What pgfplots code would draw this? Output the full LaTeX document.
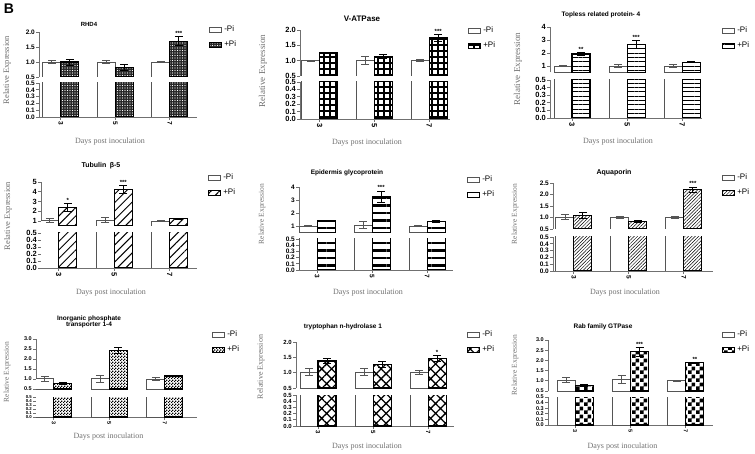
\documentclass[border=0pt]{standalone}
\usepackage{fontspec}
\setmainfont{Liberation Sans}
\newfontfamily\timesf{Liberation Serif}
\usepackage{pgfplots}
\usepackage{pgfplotstable}
\pgfplotsset{compat=1.18}
\usetikzlibrary{patterns,patterns.meta}

\definecolor{axgray}{HTML}{707070}
\definecolor{bargray}{HTML}{555555}

\pgfdeclarepatternformonly{bigchecker}{\pgfpointorigin}{\pgfqpoint{8pt}{8pt}}{\pgfqpoint{8pt}{8pt}}{%
  \pgfpathrectangle{\pgfpointorigin}{\pgfqpoint{4pt}{4pt}}%
  \pgfpathrectangle{\pgfqpoint{4pt}{4pt}}{\pgfqpoint{4pt}{4pt}}%
  \pgfusepath{fill}}
\pgfdeclarepatternformonly{smallchecker}{\pgfpointorigin}{\pgfqpoint{3pt}{3pt}}{\pgfqpoint{3pt}{3pt}}{%
  \pgfpathrectangle{\pgfpointorigin}{\pgfqpoint{1.5pt}{1.5pt}}%
  \pgfpathrectangle{\pgfqpoint{1.5pt}{1.5pt}}{\pgfqpoint{1.5pt}{1.5pt}}%
  \pgfusepath{fill}}

\tikzset{
  patA/.style={fill=black!85, postaction={pattern={Dots[distance=2.5pt,radius=0.55pt]}, pattern color=white}},
  patB/.style={fill=white, postaction={pattern={Hatch[angle=0,distance=6pt,line width=1.3pt]}, pattern color=black}},
  patC/.style={fill=white, postaction={pattern={Lines[angle=0,distance=4.3pt,line width=0.7pt]}, pattern color=black}},
  patD/.style={fill=white, postaction={pattern={Lines[angle=45,distance=6pt,line width=1pt]}, pattern color=black}},
  patE/.style={fill=white, postaction={pattern={Lines[angle=0,distance=7.5pt,line width=2.6pt]}, pattern color=black}},
  patF/.style={fill=white, postaction={pattern={Lines[angle=45,distance=2.4pt,line width=0.5pt]}, pattern color=black}},
  patG/.style={fill=white, postaction={pattern=smallchecker, pattern color=black}},
  patH/.style={fill=white, postaction={pattern={Hatch[angle=45,distance=7pt,line width=1.3pt]}, pattern color=black}},
  patI/.style={fill=white, postaction={pattern=bigchecker, pattern color=black}},
}

\pgfplotsset{
  barleg/.style={legend image code/.code={\draw[##1] (0pt,-2.5pt) rectangle (12pt,2.5pt);}},
  negbar/.style={ybar, bar width=18pt, draw=bargray, fill=white, line width=0.8pt, barleg},
  posbar/.style={ybar, bar width=18pt, draw=black, line width=1.1pt, barleg},
  ebar/.style={forget plot, draw=none, mark=none,
    /pgfplots/error bars/y dir=both, /pgfplots/error bars/y explicit,
    /pgfplots/error bars/error bar style={draw=#1, line width=0.8pt},
    /pgfplots/error bars/error mark options={rotate=90, draw=#1, mark size=4pt, line width=0.8pt}},
  starplot/.style={draw=none, mark=none, forget plot, nodes near coords, point meta=explicit symbolic,
    nodes near coords style={font=\bfseries\fontsize{6}{6}\selectfont, anchor=south, inner sep=1pt}},
  base/.style={scale only axis, anchor=south west, clip=true, enlargelimits=false,
    axis line style={draw=axgray, line width=0.8pt, -},
    tick style={draw=axgray, line width=0.8pt},
    tick align=outside, major tick length=3pt,
    ticklabel style={font=\bfseries\fontsize{\pFs}{\pFs}\selectfont, text=black},
    /pgf/number format/assume math mode=true,
    yticklabel style={inner xsep=1pt, inner ysep=0.3pt}},
  uppers/.style={base, axis y line*=left, axis x line=none,
    legend cell align=left,
    legend style={at={(1,1)}, anchor=north west, draw=none, fill=none, inner sep=0pt,
      font=\fontsize{8}{8}\selectfont, row sep=3.5pt,
      /tikz/every even column/.append style={column sep=5pt}}},
  dec/.style={yticklabel style={/pgf/number format/fixed, /pgf/number format/fixed zerofill,
    /pgf/number format/precision=1}},
  lowers/.style={base, axis y line*=left, axis x line*=bottom, ymin=0, ymax=0.5,
    ytick={0,0.1,0.2,0.3,0.4,0.5}, dec,
    yticklabel style={font=\bfseries\fontsize{\pLfs}{\pLfs}\selectfont},
    xtick={0,1,2}, xticklabels={3,5,7}, xticklabel style={rotate=-90, anchor=west, inner sep=1.5pt}},
}

\pgfkeys{/pn/.cd,
  xl/.store in=\pXl, xr/.store in=\pXr, ut/.store in=\pUt, ub/.store in=\pUb,
  lt/.store in=\pLt, lb/.store in=\pLb, xmin/.store in=\pXmin, xmax/.store in=\pXmax,
  title/.store in=\pTitle, tx/.store in=\pTx, ty/.store in=\pTy, tfs/.store in=\pTfs,
  ldx/.store in=\pLdx, ldy/.store in=\pLdy, fs/.store in=\pFs, lfs/.store in=\pLfs,
  ylx/.store in=\pYlx, yly/.store in=\pYly, ylfs/.store in=\pYlfs, xly/.store in=\pXly}

% #1 geometry (px from top-left), #2 upper axis options, #3 table, #4 pattern
\newcommand{\panel}[4]{%
  \pgfkeys{/pn/.cd, fs=6, lfs=0, tfs=6.5, #1}%
  \ifdim\pLfs pt=0pt \edef\pLfs{\pFs}\fi
  \pgfmathsetmacro\pW{\pXr-\pXl}%
  \pgfmathsetmacro\pHu{\pUb-\pUt}%
  \pgfmathsetmacro\pHl{\pLb-\pLt}%
  \pgfmathsetmacro\pYu{453-\pUb}%
  \pgfmathsetmacro\pYl{453-\pLb}%
  \pgfmathsetmacro\pLy{\pLdy+4}%
  \pgfmathsetmacro\pOff{9*((\pXmax)-(\pXmin))/\pW}%
  \begin{axis}[uppers, at={(\pXl pt,\pYu pt)}, width=\pW pt, height=\pHu pt,
      xmin=\pXmin, xmax=\pXmax, ymin=0.5,
      legend style={xshift=\pLdx pt, yshift=\pLy pt}, #2]
    \addplot[negbar, bar shift=-9pt] table[x=x, y=neg] {#3};
    \addlegendentry{-Pi}
    \addplot[posbar, #4, bar shift=9pt] table[x=x, y=pos] {#3};
    \addlegendentry{+Pi}
    \addplot[ebar=bargray] table[x expr=\thisrow{x}-\pOff, y=neg, y error=nerr] {#3};
    \addplot[ebar=black] table[x expr=\thisrow{x}+\pOff, y=pos, y error=perr] {#3};
    \addplot[starplot] table[x expr=\thisrow{x}+\pOff, y expr=\thisrow{pos}+\thisrow{perr}, meta=sig] {#3};
  \end{axis}
  \begin{axis}[lowers, at={(\pXl pt,\pYl pt)}, width=\pW pt, height=\pHl pt,
      xmin=\pXmin, xmax=\pXmax]
    \addplot[negbar, bar shift=-9pt] table[x=x, y=neg] {#3};
    \addplot[posbar, #4, bar shift=9pt] table[x=x, y=pos] {#3};
  \end{axis}
  \pgfmathsetmacro\pTyy{453-\pTy}%
  \pgfmathsetmacro\pYlyy{453-\pYly}%
  \pgfmathsetmacro\pXlx{(\pXl+\pXr)/2-8}%
  \pgfmathsetmacro\pXlyy{453-\pXly}%
  \node[font=\bfseries\fontsize{\pTfs}{\pTfs}\selectfont, align=center] at (\pTx pt,\pTyy pt) {\pTitle};
  \node[rotate=90, font=\timesf\fontsize{\pYlfs}{\pYlfs}\selectfont, text=axgray] at (\pYlx pt,\pYlyy pt) {Relative Expression};
  \node[font=\timesf\fontsize{8}{8}\selectfont, text=axgray] at (\pXlx pt,\pXlyy pt) {Days post inoculation};
}

\pgfplotstableread{
x neg nerr pos perr sig
0 1.00 0.04 1.00 0.10 {}
1 1.00 0.04 0.82 0.09 {}
2 1.00 0.03 1.69 0.15 ***
}\tabA
\pgfplotstableread{
x neg nerr pos perr sig
0 1.00 0.02 1.25 0.00 {}
1 1.02 0.13 1.14 0.08 {}
2 1.00 0.04 1.74 0.11 ***
}\tabB
\pgfplotstableread{
x neg nerr pos perr sig
0 1.00 0.05 1.92 0.14 **
1 1.00 0.10 2.67 0.30 ***
2 1.00 0.10 1.30 0.05 {}
}\tabC
\pgfplotstableread{
x neg nerr pos perr sig
0 1.05 0.20 2.40 0.40 *
1 1.12 0.30 4.25 0.37 ***
2 1.02 0.03 1.27 0.05 {}
}\tabD
\pgfplotstableread{
x neg nerr pos perr sig
0 1.00 0.02 1.41 0.05 {}
1 1.08 0.25 3.23 0.45 ***
2 1.00 0.05 1.36 0.10 {}
}\tabE
\pgfplotstableread{
x neg nerr pos perr sig
0 1.02 0.10 1.10 0.12 {}
1 1.00 0.06 0.84 0.05 {}
2 1.00 0.06 2.20 0.12 ***
}\tabF
\pgfplotstableread{
x neg nerr pos perr sig
0 1.02 0.12 0.77 0.05 {}
1 1.02 0.17 2.42 0.15 {}
2 1.00 0.07 1.15 0.03 {}
}\tabG
\pgfplotstableread{
x neg nerr pos perr sig
0 1.02 0.12 1.38 0.07 {}
1 1.02 0.11 1.28 0.10 {}
2 1.00 0.06 1.46 0.10 *
}\tabH
\pgfplotstableread{
x neg nerr pos perr sig
0 1.03 0.12 0.77 0.04 {}
1 1.05 0.20 2.42 0.22 ***
2 1.00 0.03 1.88 0.03 **
}\tabI

\begin{document}
\begin{tikzpicture}
\useasboundingbox (0,0) rectangle (755pt,453pt);
\node[font=\bfseries\fontsize{14}{14}\selectfont] at (9pt,444pt) {B};

\panel{xl=39, xr=197, ut=32, ub=77, lt=83, lb=117, xmin=-0.4, xmax=2.5, fs=6.5,
  title={RHD4}, tx=89, ty=24, tfs=6, ldx=12, ldy=4, ylx=7, yly=70, ylfs=8.5, xly=142}
  {ymax=2, ytick={0.5,1,1.5,2}, dec}{\tabA}{patA}
\panel{xl=300, xr=450, ut=30, ub=76, lt=82, lb=119, xmin=-0.36, xmax=2.38, fs=7.5,
  title={V-ATPase}, tx=362, ty=19, tfs=8, ldx=18, ldy=1, ylx=263, yly=71, ylfs=9, xly=143}
  {ymax=2, ytick={0.5,1,1.5,2}, dec}{\tabB}{patB}
\panel{xl=550, xr=702, ut=27, ub=72.5, lt=80, lb=118, xmin=-0.4, xmax=2.36, fs=7.5,
  title={Topless related protein- 4}, tx=601, ty=15, ldx=20, ldy=-2, ylx=518, yly=69, ylfs=9, xly=142}
  {ymax=4, ytick={1,2,3,4}}{\tabC}{patC}

\panel{xl=41, xr=197, ut=182, ub=226, lt=233, lb=268, xmin=-0.32, xmax=2.49, fs=7.5,
  title={Tubulin\enspace β-5}, tx=101, ty=166, tfs=7, ldx=11, ldy=6, ylx=8, yly=216, ylfs=8.5, xly=293}
  {ymax=5, ytick={1,2,3,4,5}}{\tabD}{patD}
\panel{xl=299, xr=453, ut=187, ub=232.5, lt=239, lb=270, xmin=-0.33, xmax=2.47, fs=6.5,
  title={Epidermis glycoprotein}, tx=347, ty=173, ldx=14, ldy=9, ylx=262, yly=214, ylfs=7.5, xly=293}
  {ymax=4, ytick={1,2,3,4}}{\tabE}{patE}
\panel{xl=553, xr=713, ut=183, ub=229, lt=237, lb=271, xmin=-0.38, xmax=2.53, fs=6.5,
  title={Aquaporin}, tx=614, ty=173, tfs=7, ldx=9, ldy=7, ylx=515, yly=214, ylfs=7.5, xly=293}
  {ymax=2.5, ytick={0.5,1,1.5,2,2.5}, dec}{\tabF}{patF}

\panel{xl=36, xr=197, ut=339, ub=389, lt=397, lb=417, xmin=-0.32, xmax=2.58, fs=5.5, lfs=4.3,
  title={Inorganic phosphate\\transporter 1-4}, tx=89, ty=322, ldx=15, ldy=6, ylx=7, yly=372, ylfs=7.5, xly=437}
  {ymax=3, ytick={0.5,1,1.5,2,2.5,3}, dec}{\tabG}{patG}
\panel{xl=296, xr=454, ut=342, ub=388, lt=395, lb=426, xmin=-0.4, xmax=2.47,
  title={tryptophan n-hydrolase 1}, tx=343, ty=327, ldx=13, ldy=9, ylx=261, yly=367, ylfs=8, xly=447}
  {ymax=2, ytick={0.5,1,1.5,2}, dec}{\tabH}{patH}
\panel{xl=548, xr=713, ut=340, ub=391, lt=397, lb=425, xmin=-0.49, xmax=2.49, fs=5.5,
  title={Rab family GTPase}, tx=603, ty=327, ldx=9, ldy=7, ylx=515, yly=365, ylfs=7.5, xly=447}
  {ymax=3, ytick={0.5,1,1.5,2,2.5,3}, dec}{\tabI}{patI}
\end{tikzpicture}
\end{document}
